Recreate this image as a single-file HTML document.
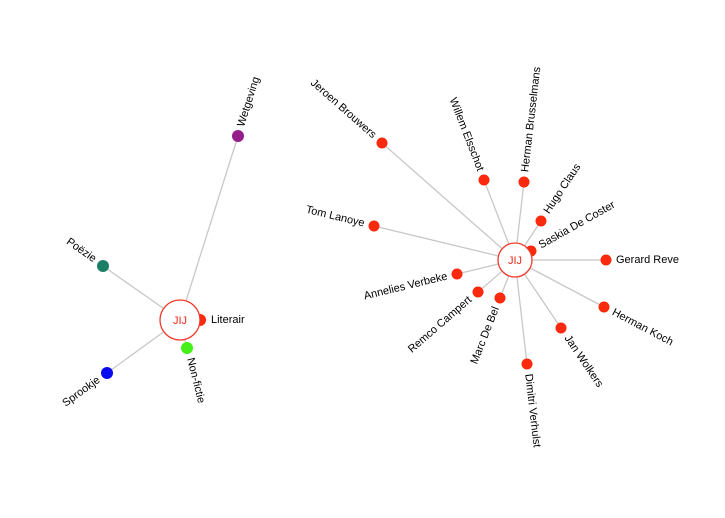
<!DOCTYPE html>
<html><head><meta charset="utf-8"><style>
html,body{margin:0;padding:0;background:#fff;}
svg text{font-family:"Liberation Sans",Arial,sans-serif;font-size:11px;fill:#000;}
</style></head><body>
<svg width="725" height="513" xmlns="http://www.w3.org/2000/svg">
<g stroke="#c8c8c8" stroke-width="1.3">
<line x1="180" y1="320" x2="238" y2="136"/>
<line x1="180" y1="320" x2="103" y2="266"/>
<line x1="180" y1="320" x2="107" y2="373"/>
<line x1="180" y1="320" x2="200" y2="320"/>
<line x1="180" y1="320" x2="187" y2="348"/>
<line x1="515" y1="260" x2="382" y2="143"/>
<line x1="515" y1="260" x2="484" y2="180"/>
<line x1="515" y1="260" x2="524" y2="182"/>
<line x1="515" y1="260" x2="541" y2="221"/>
<line x1="515" y1="260" x2="531" y2="251"/>
<line x1="515" y1="260" x2="606" y2="260"/>
<line x1="515" y1="260" x2="604" y2="307"/>
<line x1="515" y1="260" x2="561" y2="328"/>
<line x1="515" y1="260" x2="527" y2="364"/>
<line x1="515" y1="260" x2="500" y2="298"/>
<line x1="515" y1="260" x2="478" y2="292"/>
<line x1="515" y1="260" x2="457" y2="274"/>
<line x1="515" y1="260" x2="374" y2="226"/>
</g>
<circle cx="238" cy="136" r="6" fill="#951e8a"/>
<circle cx="103" cy="266" r="6" fill="#1a7f66"/>
<circle cx="107" cy="373" r="6" fill="#0a0aee"/>
<circle cx="200" cy="320" r="6" fill="#fb2a0e"/>
<circle cx="187" cy="348" r="6" fill="#44f018"/>
<circle cx="180" cy="320" r="20" fill="#fff" stroke="#f03a2a" stroke-width="1.3"/>
<text x="180" y="324" text-anchor="middle" style="fill:#f02a1a;font-size:11px">JIJ</text>
<g fill="#fb2a0e">
<circle cx="382" cy="143" r="5.5"/><circle cx="484" cy="180" r="5.5"/><circle cx="524" cy="182" r="5.5"/>
<circle cx="541" cy="221" r="5.5"/><circle cx="531" cy="251" r="5.5"/><circle cx="606" cy="260" r="5.5"/>
<circle cx="604" cy="307" r="5.5"/><circle cx="561" cy="328" r="5.5"/><circle cx="527" cy="364" r="5.5"/>
<circle cx="500" cy="298" r="5.5"/><circle cx="478" cy="292" r="5.5"/><circle cx="457" cy="274" r="5.5"/>
<circle cx="374" cy="226" r="5.5"/>
</g>
<circle cx="515" cy="260" r="17" fill="#fff" stroke="#f03a2a" stroke-width="1.3"/>
<text x="515" y="264" text-anchor="middle" style="fill:#f02a1a;font-size:11px">JIJ</text>
<g dominant-baseline="central">
<text transform="translate(241,126.5) rotate(-72.5)">Wetgeving</text>
<text transform="translate(95,260) rotate(35)" text-anchor="end">Poëzie</text>
<text transform="translate(99,379) rotate(-36)" text-anchor="end">Sprookje</text>
<text transform="translate(211,320)">Literair</text>
<text transform="translate(190,358) rotate(76)">Non-fictie</text>
<text transform="translate(374.5,136.4) rotate(41.3)" text-anchor="end">Jeroen Brouwers</text>
<text transform="translate(480.4,170.7) rotate(68.8)" text-anchor="end">Willem Elsschot</text>
<text transform="translate(525.2,172) rotate(-83.4)">Herman Brusselmans</text>
<text transform="translate(546.5,212.7) rotate(-56.3)">Hugo Claus</text>
<text transform="translate(539.7,246.1) rotate(-29.4)">Saskia De Coster</text>
<text transform="translate(616,260)">Gerard Reve</text>
<text transform="translate(612.8,311.7) rotate(27.8)">Herman Koch</text>
<text transform="translate(566.6,336.3) rotate(55.9)">Jan Wolkers</text>
<text transform="translate(528.2,373.9) rotate(83.4)">Dimitri Verhulst</text>
<text transform="translate(496.3,307.3) rotate(-68.5)" text-anchor="end">Marc De Bel</text>
<text transform="translate(470.4,298.5) rotate(-40.9)" text-anchor="end">Remco Campert</text>
<text transform="translate(447.3,276.4) rotate(-13.6)" text-anchor="end">Annelies Verbeke</text>
<text transform="translate(364.3,223.7) rotate(13.6)" text-anchor="end">Tom Lanoye</text>
</g>
</svg>
</body></html>
